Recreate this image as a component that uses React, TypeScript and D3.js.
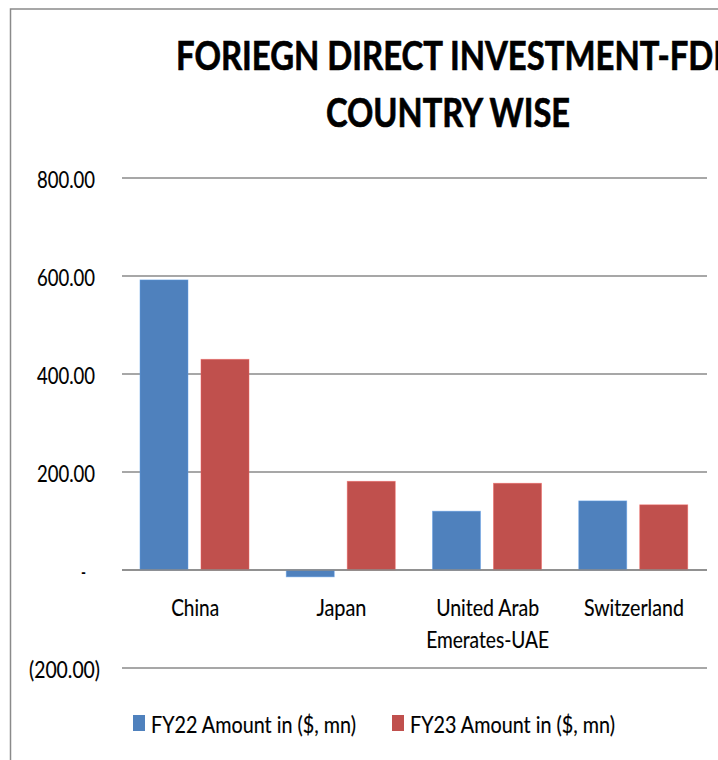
import React from "react";
import * as d3 from "d3";

const categories = ["China", "Japan", "United Arab Emerates-UAE", "Switzerland"];
const categoryLines = [["China"], ["Japan"], ["United Arab", "Emerates-UAE"], ["Switzerland"]];
const seriesNames = ["FY22 Amount in ($, mn)", "FY23 Amount in ($, mn)"];
const fy22 = [592, -14, 120, 141];
const fy23 = [430, 181, 177, 133];
const tickValues = [-200, 0, 200, 400, 600, 800];
const tickLabels = ["(200.00)", "-", "200.00", "400.00", "600.00", "800.00"];
const titleLines = ["FORIEGN DIRECT INVESTMENT-FDI", "COUNTRY WISE"];

const colors = ["#4F81BD", "#C0504D"];
const FONT = "Lato, 'Open Sans', sans-serif";

// text widths matching the reference's condensed rendering
const textWidths: Record<string, number> = {
  "FORIEGN DIRECT INVESTMENT-FDI": 547,
  "COUNTRY WISE": 244,
  "800.00": 58,
  "600.00": 58,
  "400.00": 58,
  "200.00": 58,
  "-": 5,
  "(200.00)": 71,
  China: 48,
  Japan: 50,
  "United Arab": 103,
  "Emerates-UAE": 123,
  Switzerland: 100,
  "FY22 Amount in ($, mn)": 205,
  "FY23 Amount in ($, mn)": 205,
};

export default function App() {
  const W = 718;
  const H = 760;
  const plotLeft = 122;
  const plotRight = 707;

  const y = d3.scaleLinear().domain([-200, 800]).range([668, 178]);
  const x0 = d3.scaleBand<string>().domain(categories).range([plotLeft, plotRight]).padding(0);
  const bw0 = x0.bandwidth();
  const x1 = d3
    .scaleBand<number>()
    .domain([0, 1])
    .range([bw0 * 0.123, bw0 * 0.123 + 109])
    .paddingInner(0.213)
    .paddingOuter(0);
  const series = [fy22, fy23];

  const labelRight = (l: string) => (l.startsWith("(") ? 100 : l === "-" ? 86 : 95);
  const bodyStroke = { stroke: "#000", strokeWidth: 0.15 };

  return (
    <svg
      width={W}
      height={H}
      style={{ position: "absolute", left: 0, top: 0, background: "#fff" }}
      fontFamily={FONT}
    >
      <rect x={0} y={0} width={W} height={H} fill="#fff" />
      <rect x={10.5} y={9} width={900} height={900} fill="none" stroke="#8a8a8a" strokeWidth={1.5} />

      {/* title */}
      {titleLines.map((t, i) => (
        <text
          key={t}
          x={[176, 326][i]}
          y={[70, 127][i]}
          fontSize={40}
          fontWeight={700}
          fill="#000"
          stroke="#000"
          strokeWidth={0.7}
          textLength={textWidths[t]}
          lengthAdjust="spacingAndGlyphs"
        >
          {t}
        </text>
      ))}

      {/* gridlines + y labels */}
      {tickValues.map((v, i) => (
        <g key={v}>
          <line x1={plotLeft} x2={plotRight} y1={y(v)} y2={y(v)} stroke="#8a8a8a" strokeWidth={1.6} />
          <text
            x={labelRight(tickLabels[i]) - textWidths[tickLabels[i]]}
            y={y(v) + 10}
            fontSize={23.5}
            fill="#000"
            {...bodyStroke}
            textLength={textWidths[tickLabels[i]]}
            lengthAdjust="spacingAndGlyphs"
          >
            {tickLabels[i]}
          </text>
        </g>
      ))}

      {/* bars */}
      {categories.map((c, ci) => (
        <g key={c} transform={`translate(${x0(c)},0)`}>
          {series.map((s, si) => {
            const v = s[ci];
            const top = y(Math.max(0, v));
            const bot = y(Math.min(0, v));
            return (
              <rect
                key={si}
                x={x1(si)}
                y={top}
                width={x1.bandwidth()}
                height={bot - top}
                fill={colors[si]}
                stroke={d3.color(colors[si])!.brighter(0.6).formatHex()}
                strokeWidth={0.8}
                strokeOpacity={0.6}
              />
            );
          })}
        </g>
      ))}
      <line x1={plotLeft} x2={plotRight} y1={y(0)} y2={y(0)} stroke="#8a8a8a" strokeWidth={1.6} />

      {/* category labels */}
      {categories.map((c, ci) =>
        categoryLines[ci].map((ln, li) => (
          <text
            key={c + li}
            x={x0(c)! + bw0 / 2}
            y={y(0) + 45.5 + li * 32}
            fontSize={22.5}
            fill="#000"
            {...bodyStroke}
            textAnchor="middle"
            textLength={textWidths[ln]}
            lengthAdjust="spacingAndGlyphs"
          >
            {ln}
          </text>
        ))
      )}

      {/* legend */}
      {seriesNames.map((n, i) => {
        const lx = [133, 392][i];
        return (
          <g key={n}>
            <rect x={lx} y={715} width={12} height={16} fill={colors[i]} />
            <text
              x={lx + 18}
              y={733}
              fontSize={22.5}
              fill="#000"
              {...bodyStroke}
              textLength={textWidths[n]}
              lengthAdjust="spacingAndGlyphs"
            >
              {n}
            </text>
          </g>
        );
      })}
    </svg>
  );
}
